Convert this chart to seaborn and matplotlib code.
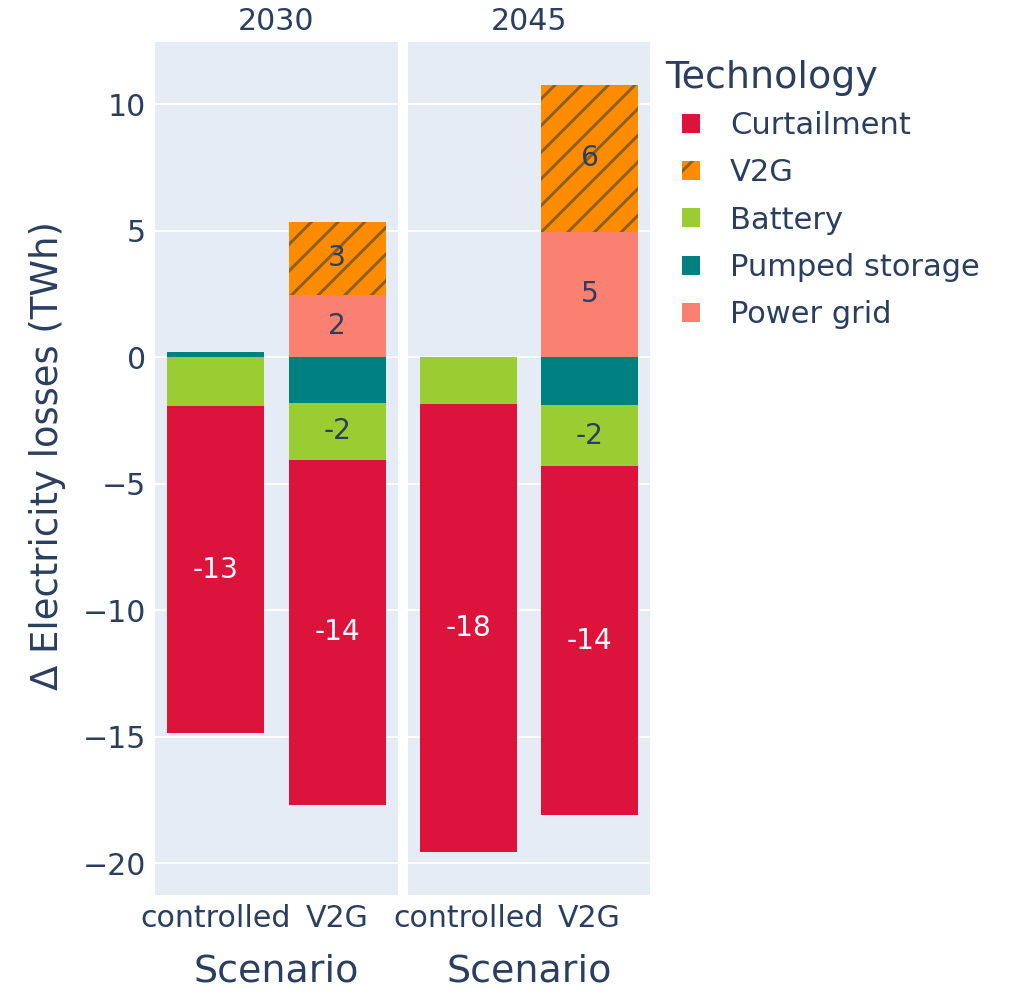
import matplotlib
matplotlib.use("Agg")
import numpy as np
import pandas as pd
import matplotlib.pyplot as plt
import seaborn as sns
from matplotlib.patches import Patch

# Data (TWh)
years = ["2030", "2045"]
scenarios = ["controlled", "V2G"]
technologies = ["Curtailment", "V2G", "Battery", "Pumped storage", "Power grid"]
stack_order = ["Power grid", "Pumped storage", "Battery", "V2G", "Curtailment"]

curtailment_2030 = [-12.9, -13.65]
curtailment_2045 = [-17.7, -13.8]
v2g_2030 = [0.0, 2.9]
v2g_2045 = [0.0, 5.8]
battery_2030 = [-1.95, -2.25]
battery_2045 = [-1.85, -2.4]
pumped_2030 = [0.2, -1.8]
pumped_2045 = [0.02, -1.9]
grid_2030 = [0.0, 2.45]
grid_2045 = [0.0, 4.95]

series = {
    ("2030", "Curtailment"): curtailment_2030, ("2045", "Curtailment"): curtailment_2045,
    ("2030", "V2G"): v2g_2030, ("2045", "V2G"): v2g_2045,
    ("2030", "Battery"): battery_2030, ("2045", "Battery"): battery_2045,
    ("2030", "Pumped storage"): pumped_2030, ("2045", "Pumped storage"): pumped_2045,
    ("2030", "Power grid"): grid_2030, ("2045", "Power grid"): grid_2045,
}
rows = []
for (year, tech), vals in series.items():
    for scen, v in zip(scenarios, vals):
        rows.append({"year": year, "scenario": scen, "technology": tech, "value": v})
df = pd.DataFrame(rows)

colors = {
    "Curtailment": "#DC143C",
    "V2G": "#FF8C00",
    "Battery": "#9ACD32",
    "Pumped storage": "#008080",
    "Power grid": "#FA8072",
}
hatch_color = "#8f5f1c"
text_color = "#2A3F5F"

DPI = 160
def px(p):
    return p * 72 / DPI

sns.set_style("darkgrid", rc={"axes.facecolor": "#E5ECF6", "grid.color": "white"})
plt.rcParams["font.family"] = ["DejaVu Sans"]
plt.rcParams["hatch.linewidth"] = px(3)

W, H = 1015, 993
fig = plt.figure(figsize=(W / DPI, H / DPI), dpi=DPI)
top, bottom = 42, 895
ax1 = fig.add_axes([155 / W, 1 - bottom / H, 243 / W, (bottom - top) / H])
ax2 = fig.add_axes([408 / W, 1 - bottom / H, 242 / W, (bottom - top) / H])
axes = [ax1, ax2]

for ax, year in zip(axes, years):
    pos_base = np.zeros(len(scenarios))
    neg_base = np.zeros(len(scenarios))
    for tech in stack_order:
        sub = df[(df["year"] == year) & (df["technology"] == tech)]
        vals = sub.set_index("scenario").loc[scenarios, "value"].to_numpy()
        base = np.where(vals >= 0, pos_base, neg_base)
        kw = dict(hatch="//", edgecolor=hatch_color) if tech == "V2G" else dict(edgecolor="none")
        sns.barplot(data=sub, x="scenario", y="value", order=scenarios, bottom=base,
                    color=colors[tech], saturation=1, width=0.8, errorbar=None,
                    linewidth=0, ax=ax, **kw)
        labels = [f"{v:.0f}" if abs(v) > 2 else "" for v in vals]
        lc = "white" if tech == "Curtailment" else text_color
        ax.bar_label(ax.containers[-1], labels=labels, label_type="center",
                     color=lc, fontsize=px(28))
        pos_base = pos_base + np.where(vals >= 0, vals, 0)
        neg_base = neg_base + np.where(vals < 0, vals, 0)

    ax.set_xlim(-0.5, 1.5)
    ax.set_ylim(-21.25, 12.45)
    ax.set_yticks([-20, -15, -10, -5, 0, 5, 10])
    ax.grid(axis="x", visible=False)
    ax.grid(axis="y", color="white", linewidth=px(2))
    for s in ax.spines.values():
        s.set_visible(False)
    ax.tick_params(length=0, labelsize=px(30), labelcolor=text_color, pad=px(9))
    ax.set_xlabel("Scenario", fontsize=px(38), color=text_color)
    ax.xaxis.set_label_coords(0.5, -0.068)
    ax.set_ylabel("")
    ax.set_title(year, fontsize=px(30), color=text_color, pad=px(12))

ax1.set_ylabel("Δ Electricity losses (TWh)", fontsize=px(37), color=text_color, va="center")
ax1.yaxis.set_label_coords((48 - 155) / 243, 0.515)
ax2.tick_params(axis="y", labelleft=False)

handles = []
for tech in technologies:
    if tech == "V2G":
        handles.append(Patch(facecolor=colors[tech], edgecolor=hatch_color, hatch="/", linewidth=0))
    else:
        handles.append(Patch(facecolor=colors[tech], edgecolor="none", linewidth=0))
fig.text(665 / W, 1 - 78 / H, "Technology", fontsize=px(38), color=text_color,
         ha="left", va="center")
leg = fig.legend(handles, technologies, loc="upper left",
                 bbox_to_anchor=(682 / W, 1 - 111 / H), frameon=False,
                 fontsize=px(30.5), handlelength=0.59, handleheight=0.59,
                 handletextpad=0.98, labelspacing=0.6, borderaxespad=0, borderpad=0)
for t in leg.get_texts():
    t.set_color(text_color)

fig.savefig("out.png", dpi=DPI)
